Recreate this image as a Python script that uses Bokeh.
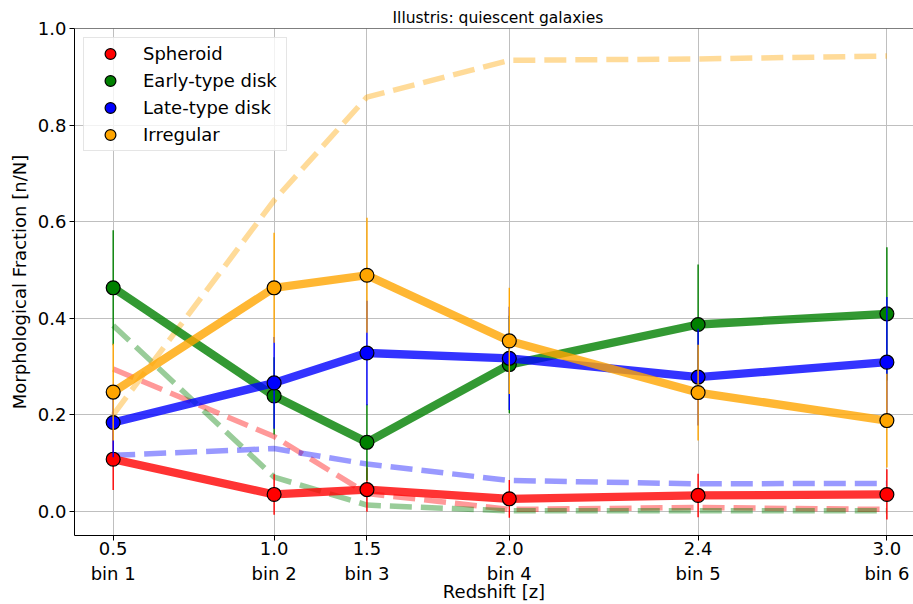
from bokeh.plotting import figure
from bokeh.models import FixedTicker, Legend, LegendItem, Span, Range1d, NumeralTickFormatter
from bokeh.embed import file_html
from bokeh.resources import INLINE

# ---------------- data ----------------
x_pos = [0.5, 1.02, 1.32, 1.78, 2.39, 3.0]          # bin centres (redshift)
z_labels = ["0.5", "1.0", "1.5", "2.0", "2.4", "3.0"]
bin_labels = ["bin 1", "bin 2", "bin 3", "bin 4", "bin 5", "bin 6"]

series_names = ["Spheroid", "Early-type disk", "Late-type disk", "Irregular"]
series_colors = ["red", "green", "blue", "orange"]

frac_spheroid = [0.108, 0.035, 0.045, 0.026, 0.033, 0.035]
err_spheroid = [0.064, 0.042, 0.046, 0.039, 0.045, 0.052]

frac_early = [0.463, 0.239, 0.143, 0.304, 0.387, 0.409]
err_early = [0.119, 0.080, 0.079, 0.101, 0.124, 0.138]

frac_late = [0.184, 0.266, 0.328, 0.317, 0.278, 0.309]
err_late = [0.072, 0.095, 0.108, 0.107, 0.100, 0.135]

frac_irregular = [0.247, 0.463, 0.489, 0.353, 0.246, 0.188]
err_irregular = [0.100, 0.114, 0.119, 0.110, 0.099, 0.097]

# dashed reference curves
ref_spheroid = [0.295, 0.155, 0.037, 0.004, 0.008, 0.004]
ref_early = [0.385, 0.071, 0.013, 0.001, 0.001, 0.001]
ref_late = [0.116, 0.130, 0.098, 0.064, 0.057, 0.058]
ref_irregular = [0.200, 0.644, 0.858, 0.934, 0.937, 0.943]

y_ticks = [0.0, 0.2, 0.4, 0.6, 0.8, 1.0]
x_lim = (0.375, 3.086)
y_lim = (-0.05, 1.0)

fracs = [frac_spheroid, frac_early, frac_late, frac_irregular]
errs = [err_spheroid, err_early, err_late, err_irregular]
refs = [ref_spheroid, ref_early, ref_late, ref_irregular]

FONT = "DejaVu Sans"

# ---------------- figure ----------------
p = figure(width=913, height=604, output_backend="svg", toolbar_location=None,
           x_range=Range1d(*x_lim), y_range=Range1d(*y_lim),
           min_border_left=74, min_border_right=0, min_border_top=28, min_border_bottom=69,
           title="Illustris: quiescent galaxies")
p.outline_line_color = None
p.background_fill_color = "white"
p.border_fill_color = "white"

p.title.text_font = FONT
p.title.text_font_size = "15.5px"
p.title.text_font_style = "normal"
p.title.text_color = "black"
p.title.align = "left"
p.title.offset = 318
p.title.standoff = 4

# top spine
p.add_layout(Span(location=y_lim[1], dimension="width", line_color="black", line_width=1))

for ax in (p.xaxis[0], p.yaxis[0]):
    ax.axis_line_color = "black"
    ax.axis_line_width = 1
    ax.major_tick_line_color = "black"
    ax.major_tick_out = 5
    ax.major_tick_in = 0
    ax.minor_tick_line_color = None
    ax.major_label_text_font = FONT
    ax.major_label_text_font_size = "18px"
    ax.major_label_text_color = "black"
    ax.axis_label_text_font = FONT
    ax.axis_label_text_font_size = "18px"
    ax.axis_label_text_font_style = "normal"
    ax.axis_label_text_color = "black"

p.xaxis.ticker = FixedTicker(ticks=x_pos)
p.xaxis.major_label_overrides = {x: f"{z}\n{b}" for x, z, b in zip(x_pos, z_labels, bin_labels)}
p.xaxis.major_label_standoff = -3
p.xaxis.axis_label = "Redshift [z]"
p.xaxis.axis_label_standoff = -6

p.yaxis.ticker = FixedTicker(ticks=y_ticks)
p.yaxis.formatter = NumeralTickFormatter(format="0.0")
p.yaxis.major_label_standoff = 3
p.yaxis.axis_label = "Morphological Fraction [n/N]"
p.yaxis.axis_label_standoff = 5

p.xgrid.grid_line_color = "#bfbfbf"
p.ygrid.grid_line_color = "#bfbfbf"
p.xgrid.grid_line_width = 1
p.ygrid.grid_line_width = 1

# dashed reference curves (drawn underneath)
for ref, c in zip(refs, series_colors):
    p.line(x_pos, ref, line_color=c, line_alpha=0.4, line_width=5.5, line_dash="22 9")

items = []
for name, c, fr, er in zip(series_names, series_colors, fracs, errs):
    lo = [f - e for f, e in zip(fr, er)]
    hi = [f + e for f, e in zip(fr, er)]
    p.line(x_pos, fr, line_color=c, line_alpha=0.8, line_width=8.3)
    p.segment(x0=x_pos, y0=lo, x1=x_pos, y1=hi, line_color=c, line_width=1.4)
    r = p.scatter(x_pos, fr, size=13.9, fill_color=c, line_color="black", line_width=1.2)
    items.append(LegendItem(label=name, renderers=[r]))

legend = Legend(items=items, location="top_left", margin=9, padding=2, spacing=0,
                glyph_width=48, glyph_height=27, label_standoff=9, label_width=141,
                label_height=20, label_text_font=FONT, label_text_font_size="18px",
                label_text_color="black", border_line_color="#cccccc", border_line_width=1,
                background_fill_alpha=0.8)
p.add_layout(legend)

open("out.html", "w").write(file_html(p, INLINE))
